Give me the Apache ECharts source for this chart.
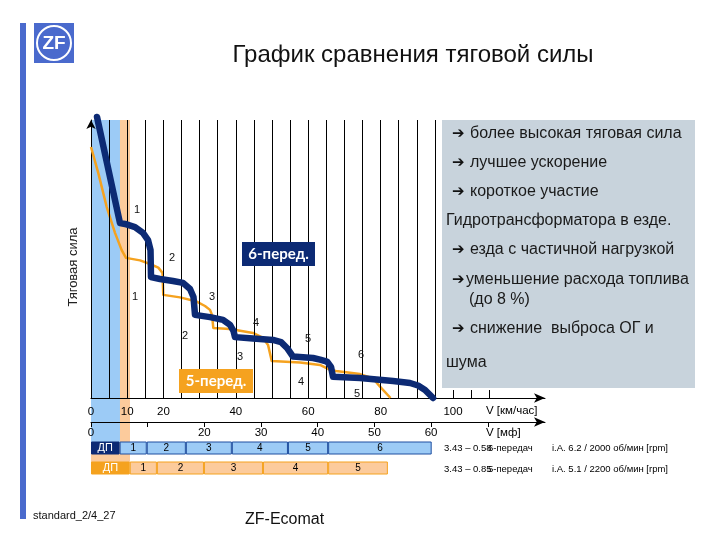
<!DOCTYPE html>
<html><head><meta charset="utf-8">
<script src="https://cdn.jsdelivr.net/npm/echarts@6/dist/echarts.min.js"></script>
<style>html,body{margin:0;padding:0;background:#fff}#c{width:720px;height:540px}</style>
</head><body><div id="c"></div>
<script>
// ---- data (km/h vs relative traction force) ----
const speed6 = [1.66, 8.01, 9.39, 12.15, 14.36, 15.75, 16.44, 16.57, 19.06, 22.65, 25.41, 27.35, 28.31, 28.73, 32.87, 36.46, 38.40, 39.36, 39.78, 44.75, 50.28, 52.49, 54.14, 55.80, 61.33, 63.26, 65.19, 66.30, 66.85, 74.31, 83.43, 88.12, 90.33, 92.27, 94.48];
const force6 = [101.1, 62.9, 62.6, 61.5, 59.4, 56.8, 53.2, 43.5, 42.8, 42.1, 41.4, 39.2, 36.3, 29.9, 29.1, 28.1, 26.3, 24.1, 21.9, 21.4, 20.9, 20.1, 18.0, 14.9, 14.4, 13.8, 13.1, 11.2, 7.6, 7.2, 6.1, 5.4, 4.5, 2.9, 0];
const speed5 = [0, 2.02, 4.34, 6.63, 8.48, 9.67, 13.54, 16.30, 18.59, 19.75, 19.97, 24.59, 29.20, 31.49, 32.87, 33.43, 33.78, 38.40, 44.75, 47.51, 48.90, 49.92, 57.73, 63.26, 66.02, 67.68, 74.31, 77.90, 79.83, 82.73];
const force5 = [90.3, 80.9, 68.7, 59.4, 53.2, 50.4, 49.5, 48.2, 46.9, 45.0, 37.1, 36.2, 34.7, 33.1, 31.7, 29.9, 25.2, 24.8, 23.4, 21.6, 19.1, 13.3, 12.8, 11.9, 10.1, 9.7, 8.6, 7.0, 4.1, 0];

const kmhTicks = [0,5,10,15,20,25,30,35,40,45,50,55,60,65,70,75,80,85,90,95,100,105,110];
const kmhLabels = [0,10,20,40,60,80,100];
const kmhGridLines = [5,10,15,20,25,30,35,40,45,50,55,60,65,70,75,80,85,90,95];
const mphTicks = [0,10,20,30,40,50,60,70];
const mphLabels = [0,20,30,40,50,60];

// converter bands (km/h)
const bandStart = [0, 0];
const bandEnd = [10.77, 8.0];

// gear ranges (km/h)
const rowNames = ['6-передач', '5-передач'];
const gearLabels6 = ['ДП','1','2','3','4','5','6'];
const gearEdges6 = [0, 7.9, 15.4, 26.2, 38.9, 54.4, 65.5, 94.1];
const gearLabels5 = ['ДП','1','2','3','4','5'];
const gearEdges5 = [0, 10.7, 18.2, 31.2, 47.5, 65.5, 82.0];

// ---- build ----
const FONT = '"Liberation Sans", Arial, "DejaVu Sans", sans-serif';
const NAVY = '#0c2a74', ORANGE = '#f5a21f', LBLUE = '#9ccbf6', PEACH = '#fccb9c', LOGO = '#4a6acd';

const line6 = speed6.map((v,i)=>[v, force6[i]]);
const line5 = speed5.map((v,i)=>[v, force5[i]]);
const bandData = bandStart.map((v,i)=>[v, bandEnd[i]]);

const gearData = [], gearMeta = [];
[[gearEdges6, gearLabels6], [gearEdges5, gearLabels5]].forEach(([edges, labels], r) => {
  for (let i = 0; i < labels.length; i++) {
    gearData.push([edges[i], edges[i+1], r]);
    gearMeta.push({label: labels[i], row: r, dp: labels[i] === 'ДП'});
  }
});

function txt(text, x, y, size, opts) {
  opts = opts || {};
  return {type:'text', x:x, y:y, z:100, rotation: opts.rot || 0,
    style:{text:text, fill: opts.color || '#111', fontSize:size, fontFamily: opts.family || FONT,
      fontWeight: opts.weight || 'normal', fontStyle: opts.style || 'normal',
      align: opts.align || 'left', verticalAlign:'middle'}};
}
const ARROW_FONT = '"DejaVu Sans", sans-serif';
function bullet(text, x, y, size, gap) {
  return [
    txt('➔', x, y, size - 1, {color:'#111', weight:'bold', family:ARROW_FONT}),
    txt(text, x + gap, y, size, {color:'#1a1a1a'})
  ];
}

const PT = 16;
const graphics = [
  {type:'rect', z:100, shape:{x:20, y:23, width:6, height:496}, style:{fill:LOGO}},
  {type:'rect', z:100, shape:{x:34, y:23, width:40, height:40}, style:{fill:LOGO}},
  {type:'circle', z:101, shape:{cx:54, cy:43, r:17}, style:{fill:'none', stroke:'#fff', lineWidth:2}},
  txt('ZF', 54, 44, 19, {color:'#fff', weight:'bold', align:'center'}),
  txt('График сравнения тяговой силы', 413, 55, 24, {align:'center'}),
  txt('Тяговая сила', 73, 267, 13, {rot:Math.PI/2, align:'center', color:'#222'}),
  // right panel
  {type:'rect', z:99, shape:{x:442, y:120, width:253, height:268}, style:{fill:'#c8d3dc'}},
  ...bullet('более высокая тяговая сила', 452, 134, PT, 18),
  ...bullet('лучшее ускорение', 452, 163, PT, 18),
  ...bullet('короткое участие', 452, 192, PT, 18),
  txt('Гидротрансформатора в езде.', 446, 221, PT, {color:'#1a1a1a'}),
  ...bullet('езда с частичной нагрузкой', 452, 250, PT, 18),
  ...bullet('уменьшение расхода топлива', 452, 280, PT, 14),
  txt('(до 8 %)', 469, 300, PT, {color:'#1a1a1a'}),
  ...bullet('снижение  выброса ОГ и', 452, 329, PT, 18),
  txt('шума', 446, 363, PT, {color:'#1a1a1a'}),
  // gear labels on curves
  txt('1', 137, 210, 11, {align:'center'}), txt('2', 172, 258, 11, {align:'center'}),
  txt('3', 212, 297, 11, {align:'center'}), txt('4', 256, 323, 11, {align:'center'}),
  txt('5', 308, 339, 11, {align:'center'}), txt('6', 361, 355, 11, {align:'center'}),
  txt('1', 135, 297, 11, {align:'center'}), txt('2', 185, 336, 11, {align:'center'}),
  txt('3', 240, 357, 11, {align:'center'}), txt('4', 301, 382, 11, {align:'center'}),
  txt('5', 357, 394, 11, {align:'center'}),
  // series boxes
  {type:'rect', z:100, shape:{x:242, y:242, width:73, height:24}, style:{fill:NAVY}},
  txt('6-перед.', 278.5, 254.5, 15, {color:'#fff', weight:'bold', family:'Lato, "Open Sans", sans-serif', align:'center'}),
  {type:'rect', z:100, shape:{x:179, y:369, width:74, height:24}, style:{fill:ORANGE}},
  txt('5-перед.', 216, 381.5, 15, {color:'#fff', weight:'bold', family:'Lato, "Open Sans", sans-serif', align:'center'}),
  // axis names
  txt('V [км/час]', 486, 411, 11.5, {color:'#000'}),
  txt('V [мф]', 486, 433, 11.5, {color:'#000'}),
  // ratios
  txt('3.43 – 0.58', 444, 448, 9.5, {color:'#000'}),
  txt('6-передач', 488, 448, 9.5, {color:'#000'}),
  txt('i.A. 6.2 / 2000 об/мин [rpm]', 552, 448, 9.5, {color:'#000'}),
  txt('3.43 – 0.85', 444, 469, 9.5, {color:'#000'}),
  txt('5-передач', 488, 469, 9.5, {color:'#000'}),
  txt('i.A. 5.1 / 2200 об/мин [rpm]', 552, 469, 9.5, {color:'#000'}),
  // footer
  txt('standard_2/4_27', 33, 516, 11, {color:'#111'}),
  txt('ZF-Ecomat', 245, 520, 16, {color:'#111'})
];

const axisLineStyle = {color:'#000', width:1};
const option = {
  animation:false,
  backgroundColor:'#fff',
  grid:[
    {left:91, right:175, top:120, bottom:142},
    {left:91, right:175, top:421, height:1},
    {left:91, right:175, top:438, height:40}
  ],
  xAxis:[
    {gridIndex:0, type:'value', min:0, max:125.4, z:3,
      axisLine:{show:true, onZero:false, lineStyle:axisLineStyle, symbol:['none','arrow'], symbolSize:[7,11]},
      axisTick:{show:true, inside:true, length:8, customValues:kmhTicks, lineStyle:axisLineStyle},
      axisLabel:{customValues:kmhLabels, margin:8, color:'#000', fontSize:11.5, fontFamily:FONT},
      splitLine:{show:false}},
    {gridIndex:1, type:'value', min:0, max:80.1, z:3,
      axisLine:{show:true, onZero:false, lineStyle:axisLineStyle, symbol:['none','arrow'], symbolSize:[7,11]},
      axisTick:{show:true, length:5, customValues:mphTicks, lineStyle:axisLineStyle},
      axisLabel:{customValues:mphLabels, margin:5, color:'#000', fontSize:11.5, fontFamily:FONT},
      splitLine:{show:false}},
    {gridIndex:2, type:'value', min:0, max:125.4, show:false}
  ],
  yAxis:[
    {gridIndex:0, type:'value', min:0, max:100, z:3,
      axisLine:{show:true, onZero:false, lineStyle:axisLineStyle, symbol:['none','arrow'], symbolSize:[7,9]},
      axisTick:{show:false}, axisLabel:{show:false}, splitLine:{show:false}},
    {gridIndex:1, type:'value', show:false},
    {gridIndex:2, type:'category', data:rowNames, inverse:true, show:false}
  ],
  series:[
    {type:'custom', name:'bands', xAxisIndex:0, yAxisIndex:0, z:1, clip:false, silent:true,
      data:bandData,
      renderItem:function(params, api){
        const a = api.coord([api.value(0), 100]);
        const b = api.coord([api.value(1), 0]);
        const ext = params.dataIndex === 0 ? 64 : 44;
        return {type:'rect', shape:{x:a[0], y:a[1], width:b[0]-a[0], height:b[1]-a[1]+ext},
          style:{fill: params.dataIndex === 0 ? PEACH : LBLUE}};
      }},
    {type:'line', name:'grid', xAxisIndex:0, yAxisIndex:0, z:2, data:[], silent:true,
      markLine:{silent:true, symbol:['none','none'], label:{show:false},
        lineStyle:{color:'#000', width:1, type:'solid'},
        data: kmhGridLines.map(v => ({xAxis:v}))}},
    {type:'line', name:'5-перед.', xAxisIndex:0, yAxisIndex:0, z:4, clip:false,
      data:line5, showSymbol:false, smooth:false,
      lineStyle:{color:ORANGE, width:2.5, join:'round'}},
    {type:'line', name:'6-перед.', xAxisIndex:0, yAxisIndex:0, z:5, clip:false,
      data:line6, showSymbol:false, smooth:false,
      lineStyle:{color:NAVY, width:6.5, join:'round', cap:'round'}},
    {type:'custom', name:'gears', xAxisIndex:2, yAxisIndex:2, z:6, clip:false,
      data:gearData,
      renderItem:function(params, api){
        const m = gearMeta[params.dataIndex];
        const a = api.coord([api.value(0), api.value(2)]);
        const b = api.coord([api.value(1), api.value(2)]);
        const h = api.size([0,1])[1] * 0.6;
        let fill, stroke, tcol;
        if (m.row === 0) { fill = m.dp ? NAVY : LBLUE; stroke = m.dp ? NAVY : '#1f4fa0'; }
        else { fill = m.dp ? ORANGE : PEACH; stroke = ORANGE; }
        tcol = m.dp ? '#fff' : '#000';
        return {type:'rect', shape:{x:a[0]+0.5, y:a[1]-h/2, width:b[0]-a[0]-1, height:h},
          style:{fill:fill, stroke:stroke, lineWidth:1},
          textContent:{style:{text:m.label, fill:tcol, fontSize: m.dp ? 11 : 10, fontFamily:FONT}},
          textConfig:{position:'inside'}};
      }}
  ],
  graphic: graphics
};
const chart = echarts.init(document.getElementById('c'));
chart.setOption(option);
</script>
</body></html>
